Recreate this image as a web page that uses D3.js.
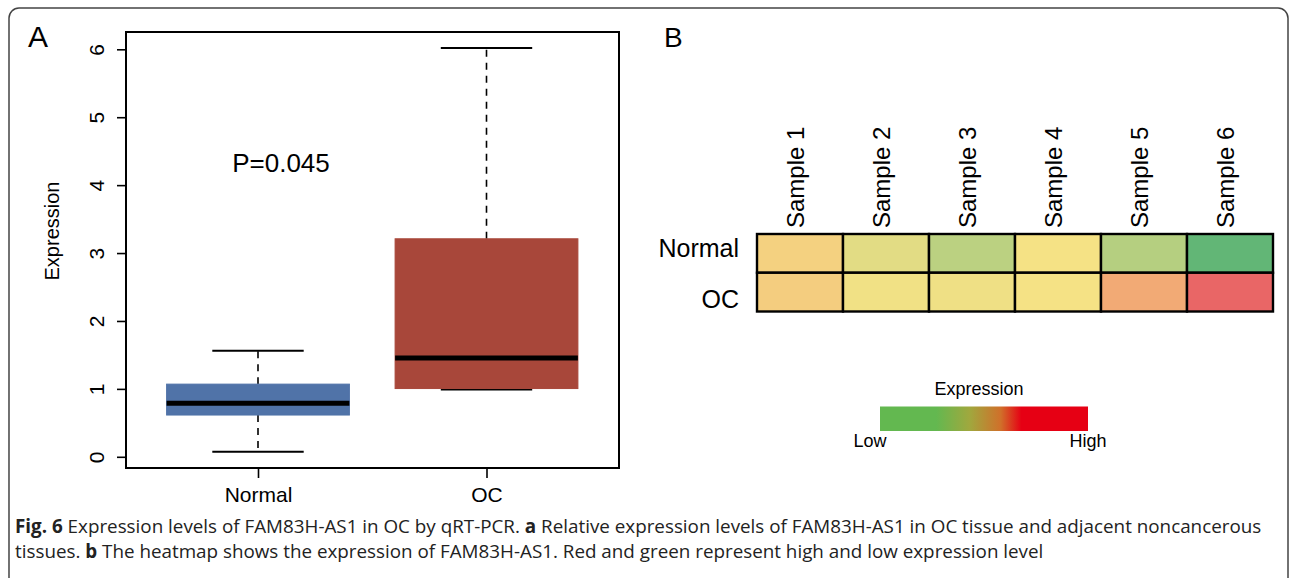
<!DOCTYPE html>
<html>
<head>
<meta charset="utf-8">
<script src="https://cdn.jsdelivr.net/npm/d3@7"></script>
<style>
  body { margin: 0; background: #fff; }
  svg text { font-family: "Liberation Sans", Arial, sans-serif; }
</style>
</head>
<body>
<svg width="1290" height="578"></svg>
<script>
// box plot data (panel A)
var groups = ["Normal", "OC"];
var whiskerLow = [0.075, 0.99];
var q1 = [0.615, 1.005];
var median = [0.79, 1.455];
var q3 = [1.07, 3.21];
var whiskerHigh = [1.56, 6.02];
var boxColors = ["#5073a8", "#a8473a"];
var yTicks = [0, 1, 2, 3, 4, 5, 6];

// heatmap data (panel B), relative expression 0 = low, 1 = high
var samples = ["Sample 1", "Sample 2", "Sample 3", "Sample 4", "Sample 5", "Sample 6"];
var rows = ["Normal", "OC"];
var normalValues = [0.575, 0.45, 0.35, 0.5, 0.326, 0];
var ocValues = [0.594, 0.49, 0.485, 0.5, 0.75, 1];

var svg = d3.select("svg");

// outer frame
svg.append("rect")
    .attr("x", 9).attr("y", 8)
    .attr("width", 1279).attr("height", 590)
    .attr("rx", 10)
    .attr("fill", "none")
    .attr("stroke", "#444")
    .attr("stroke-width", 1.5);

// ---------- Panel A ----------
var plot = { left: 126, right: 619, top: 32, bottom: 468 };

var x = d3.scaleLinear().domain([1, 2]).range([258, 486.5]);
var y = d3.scaleLinear().domain([0, 6]).range([456.8, 49.3]);

var boxes = groups.map(function(g, i) {
    return { name: g, lo: whiskerLow[i], q1: q1[i], med: median[i],
             q3: q3[i], hi: whiskerHigh[i], color: boxColors[i], pos: i + 1 };
});

var gA = svg.append("g");

// whiskers (dashed)
gA.selectAll(".whisk-up").data(boxes).enter().append("line")
    .attr("x1", function(d) { return x(d.pos); })
    .attr("x2", function(d) { return x(d.pos); })
    .attr("y1", function(d) { return y(d.q3); })
    .attr("y2", function(d) { return y(d.hi); })
    .attr("stroke", "#000").attr("stroke-width", 1.6)
    .attr("stroke-dasharray", "7,6");
gA.selectAll(".whisk-down").data(boxes).enter().append("line")
    .attr("x1", function(d) { return x(d.pos); })
    .attr("x2", function(d) { return x(d.pos); })
    .attr("y1", function(d) { return y(d.q1); })
    .attr("y2", function(d) { return y(d.lo); })
    .attr("stroke", "#000").attr("stroke-width", 1.6)
    .attr("stroke-dasharray", "7,6");

// whisker caps
["hi", "lo"].forEach(function(k) {
    gA.selectAll(".cap-" + k).data(boxes).enter().append("line")
        .attr("x1", function(d) { return x(d.pos - 0.2); })
        .attr("x2", function(d) { return x(d.pos + 0.2); })
        .attr("y1", function(d) { return y(d[k]); })
        .attr("y2", function(d) { return y(d[k]); })
        .attr("stroke", "#000").attr("stroke-width", 2);
});

// boxes
gA.selectAll(".box").data(boxes).enter().append("rect")
    .attr("x", function(d) { return x(d.pos - 0.4); })
    .attr("width", function(d) { return x(d.pos + 0.4) - x(d.pos - 0.4); })
    .attr("y", function(d) { return y(d.q3); })
    .attr("height", function(d) { return y(d.q1) - y(d.q3); })
    .attr("fill", function(d) { return d.color; })
    .attr("stroke", function(d) { return d.color; })
    .attr("stroke-width", 1);

// medians
gA.selectAll(".med").data(boxes).enter().append("line")
    .attr("x1", function(d) { return x(d.pos - 0.4); })
    .attr("x2", function(d) { return x(d.pos + 0.4); })
    .attr("y1", function(d) { return y(d.med); })
    .attr("y2", function(d) { return y(d.med); })
    .attr("stroke", "#000").attr("stroke-width", 5);

// plot frame
gA.append("rect")
    .attr("x", plot.left).attr("y", plot.top)
    .attr("width", plot.right - plot.left)
    .attr("height", plot.bottom - plot.top)
    .attr("fill", "none").attr("stroke", "#000").attr("stroke-width", 2);

// y axis
var yAxis = gA.append("g")
    .attr("transform", "translate(" + plot.left + ",0)")
    .call(d3.axisLeft(y).tickValues(yTicks).tickSize(9).tickFormat(d3.format("d")));
yAxis.select(".domain").remove();
yAxis.selectAll("line").attr("stroke", "#000").attr("stroke-width", 1.6);
yAxis.selectAll("text")
    .attr("x", 0).attr("y", 0).attr("dy", null)
    .attr("transform", "translate(-22,0)rotate(-90)")
    .style("text-anchor", "middle")
    .style("font-size", "21px")
    .attr("fill", "#000");

gA.append("text")
    .attr("transform", "translate(59,231)rotate(-90)")
    .style("text-anchor", "middle")
    .style("font-size", "20px")
    .text("Expression");

// x axis
var xAxis = gA.append("g")
    .attr("transform", "translate(0," + plot.bottom + ")")
    .call(d3.axisBottom(x).tickValues([1, 2]).tickSize(10)
        .tickFormat(function(d) { return groups[d - 1]; }));
xAxis.select(".domain").remove();
xAxis.selectAll("line").attr("stroke", "#000").attr("stroke-width", 1.6);
xAxis.selectAll("text")
    .attr("y", 34).attr("dy", null)
    .style("font-size", "21px")
    .attr("fill", "#000");

gA.append("text")
    .attr("x", 281).attr("y", 171.5)
    .style("text-anchor", "middle")
    .style("font-size", "26px")
    .text("P=0.045");

gA.append("text")
    .attr("x", 28).attr("y", 47)
    .style("font-size", "30px")
    .text("A");

// ---------- Panel B ----------
var gB = svg.append("g");

gB.append("text")
    .attr("x", 664).attr("y", 47)
    .style("font-size", "28px")
    .text("B");

var cx = d3.scaleBand().domain(samples).range([757, 1273]);
var cy = d3.scaleBand().domain(rows).range([234, 311.5]);
var rowLab = d3.scalePoint().domain(rows).range([256.5, 308]);

var color = d3.scaleLinear()
    .domain([0, 0.35, 0.5, 0.75, 1])
    .range(["#62b676", "#bbd181", "#f5e285", "#f2aa75", "#e96666"]);

var cells = [];
samples.forEach(function(s, i) {
    cells.push({ row: "Normal", col: s, v: normalValues[i] });
    cells.push({ row: "OC", col: s, v: ocValues[i] });
});

gB.selectAll(".cell").data(cells).enter().append("rect")
    .attr("x", function(d) { return cx(d.col); })
    .attr("y", function(d) { return cy(d.row); })
    .attr("width", cx.bandwidth())
    .attr("height", cy.bandwidth())
    .attr("fill", function(d) { return color(d.v); })
    .attr("stroke", "#000")
    .attr("stroke-width", 2.4);

gB.selectAll(".collab").data(samples).enter().append("text")
    .attr("transform", function(d) {
        return "translate(" + (cx(d) + cx.bandwidth() / 2 + 4) + ",228)rotate(-90)";
    })
    .style("font-size", "24px")
    .text(function(d) { return d; });

gB.selectAll(".rowlab").data(rows).enter().append("text")
    .attr("x", 739)
    .attr("y", function(d) { return rowLab(d); })
    .style("text-anchor", "end")
    .style("font-size", "25px")
    .text(function(d) { return d; });

// legend
var grad = svg.append("defs").append("linearGradient")
    .attr("id", "expr").attr("x1", "0%").attr("x2", "100%");
[[0, "#63b850"], [0.27, "#63b850"], [0.43, "#a0a83e"], [0.58, "#d0702a"], [0.68, "#e60014"], [1, "#e60014"]]
    .forEach(function(s) {
        grad.append("stop").attr("offset", s[0] * 100 + "%").attr("stop-color", s[1]);
    });

gB.append("rect")
    .attr("x", 880).attr("y", 406.5)
    .attr("width", 208).attr("height", 24.5)
    .attr("fill", "url(#expr)");

gB.append("text").attr("x", 979).attr("y", 395)
    .style("text-anchor", "middle").style("font-size", "18px").text("Expression");
gB.append("text").attr("x", 870).attr("y", 447)
    .style("text-anchor", "middle").style("font-size", "18px").text("Low");
gB.append("text").attr("x", 1088).attr("y", 447)
    .style("text-anchor", "middle").style("font-size", "18px").text("High");

// ---------- caption ----------
var captionLines = [
    [["Fig. 6", true], [" Expression levels of FAM83H-AS1 in OC by qRT-PCR. ", false], ["a", true],
     [" Relative expression levels of FAM83H-AS1 in OC tissue and adjacent noncancerous", false]],
    [["tissues. ", false], ["b", true],
     [" The heatmap shows the expression of FAM83H-AS1. Red and green represent high and low expression level", false]]
];
var captionWidth = 1247;   // width of the first line in the reference
var captionY = [533, 558];

var captionTexts = captionLines.map(function(line, i) {
    var t = svg.append("text")
        .attr("x", 15).attr("y", captionY[i])
        .style("font-family", "'Open Sans', 'Noto Sans', sans-serif")
        .style("font-size", "19px")
        .attr("fill", "#222");
    line.forEach(function(part) {
        t.append("tspan")
            .style("font-weight", part[1] ? "bold" : "normal")
            .text(part[0]);
    });
    return t;
});
// fit the font size so the first line spans the same width as the reference
var fitSize = 19 * captionWidth / captionTexts[0].node().getComputedTextLength();
captionTexts.forEach(function(t) { t.style("font-size", fitSize + "px"); });
</script>
</body>
</html>
